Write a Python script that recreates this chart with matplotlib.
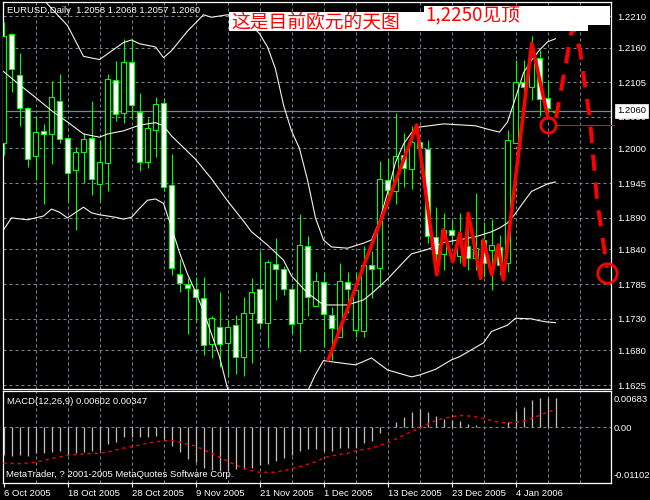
import matplotlib
matplotlib.use("Agg")
import matplotlib.pyplot as plt
from matplotlib.patches import Rectangle
from matplotlib.transforms import blended_transform_factory

plt.rcParams['font.family'] = ['Liberation Sans', 'DejaVu Sans']

# ---------------- data ----------------
symbol_header = "EURUSD,Daily  1.2058 1.2068 1.2057 1.2060"
macd_header = "MACD(12,26,9) 0.00602 0.00347"
copyright_text = "MetaTrader, ? 2001-2005 MetaQuotes Software Corp."
note_text = "这是目前欧元的天图"
target_text = "1,2250见顶"

opens = [1.2008, 1.2182, 1.2116, 1.2064, 1.1988, 1.2027, 1.2023, 1.2075, 1.2016, 1.1966,
         1.1994, 1.2016, 1.1943, 1.1977, 1.2108, 1.2056, 1.2137, 1.2058, 1.1979, 1.2030,
         1.2072, 1.1942, 1.1801, 1.1785, 1.1777, 1.1763, 1.1690, 1.1717, 1.1692, 1.1721,
         1.1670, 1.1740, 1.1777, 1.1724, 1.1817, 1.1809, 1.1778, 1.1723, 1.1845, 1.1751,
         1.1788, 1.1736, 1.1701, 1.1789, 1.1712, 1.1710, 1.1815, 1.1810, 1.1950, 1.1932,
         1.1990, 1.1967, 1.2011, 1.1999, 1.1859, 1.1832, 1.1871, 1.1829, 1.1845, 1.1826,
         1.1855, 1.1839, 1.1844, 1.1818, 1.2009, 1.2106, 1.2097, 1.2143, 1.2080, 1.2058]
highs = [1.2201, 1.2183, 1.2151, 1.2066, 1.2051, 1.2039, 1.2107, 1.2118, 1.2017, 1.2003,
         1.2024, 1.2075, 1.2014, 1.2118, 1.2138, 1.2173, 1.2172, 1.2088, 1.2048, 1.2082,
         1.2080, 1.1992, 1.1825, 1.1795, 1.1796, 1.1797, 1.1734, 1.1772, 1.1728, 1.1736,
         1.1764, 1.1794, 1.1837, 1.1824, 1.1858, 1.1813, 1.1784, 1.1896, 1.1862, 1.1804,
         1.1804, 1.1749, 1.1818, 1.1805, 1.1804, 1.1845, 1.1837, 1.1980, 1.1985, 1.2057,
         1.2024, 1.2036, 1.2014, 1.2013, 1.1908, 1.1898, 1.1887, 1.1898, 1.1892, 1.1930,
         1.1884, 1.1888, 1.1863, 1.2029, 1.2140, 1.2140, 1.2178, 1.2156, 1.2109, 1.2068]
lows = [1.1990, 1.2090, 1.2036, 1.1971, 1.1950, 1.1912, 1.1976, 1.2009, 1.1916, 1.1871,
        1.1946, 1.1927, 1.1916, 1.1933, 1.2043, 1.2040, 1.2047, 1.1965, 1.1969, 1.1986,
        1.1933, 1.1800, 1.1773, 1.1706, 1.1726, 1.1673, 1.1668, 1.1654, 1.1638, 1.1643,
        1.1640, 1.1660, 1.1715, 1.1684, 1.1760, 1.1768, 1.1706, 1.1677, 1.1735, 1.1750,
        1.1686, 1.1665, 1.1701, 1.1739, 1.1702, 1.1702, 1.1763, 1.1781, 1.1916, 1.1912,
        1.1939, 1.1936, 1.1987, 1.1851, 1.1800, 1.1807, 1.1850, 1.1818, 1.1808, 1.1808,
        1.1797, 1.1776, 1.1800, 1.1805, 1.2009, 1.2080, 1.2077, 1.2051, 1.2053, 1.2057]
closes = [1.2178, 1.2126, 1.2064, 1.1983, 1.2026, 1.2023, 1.2082, 1.2015, 1.1961, 1.1994,
          1.2015, 1.1952, 1.1978, 1.2110, 1.2055, 1.2137, 1.2069, 1.1978, 1.2032, 1.2070,
          1.1939, 1.1810, 1.1787, 1.1779, 1.1764, 1.1689, 1.1731, 1.1690, 1.1717, 1.1669,
          1.1739, 1.1772, 1.1723, 1.1820, 1.1809, 1.1777, 1.1722, 1.1847, 1.1764, 1.1790,
          1.1738, 1.1715, 1.1790, 1.1777, 1.1776, 1.1815, 1.1809, 1.1951, 1.1934, 1.1988,
          1.1969, 1.2011, 1.2000, 1.1862, 1.1832, 1.1871, 1.1863, 1.1854, 1.1826, 1.1842,
          1.1818, 1.1847, 1.1816, 1.2014, 1.2106, 1.2097, 1.2154, 1.2078, 1.2064, 1.2060]

upper_x = [0, 3, 5, 6, 8, 10, 12, 13, 15, 16, 17, 19, 20, 21, 23, 25, 26, 28, 30, 31,
           32, 33, 34, 35, 36, 37, 38, 39, 40, 41, 43, 45, 46, 47, 48, 49, 50, 51, 52, 55,
           59, 61, 62, 63, 64, 65, 66, 67, 68, 69]
upper_y = [1.2290, 1.2262, 1.2236, 1.2222, 1.2195, 1.2146, 1.2141, 1.2150, 1.2168, 1.2172,
           1.2166, 1.2161, 1.2144, 1.2155, 1.2186, 1.2212, 1.2208, 1.2212, 1.2208, 1.2195,
           1.2182, 1.2161, 1.2126, 1.2069, 1.2028, 1.2000, 1.1950, 1.1890, 1.1855, 1.1844,
           1.1842, 1.1850, 1.1855, 1.1885, 1.1930, 1.1978, 1.2007, 1.2025, 1.2034, 1.2039,
           1.2036, 1.2029, 1.2026, 1.2042, 1.2080, 1.2120, 1.2140, 1.2156, 1.2169, 1.2174]
middle_x = [0, 2, 4, 6, 8, 10, 12, 13, 15, 17, 19, 20, 21, 24, 26, 28, 30, 31, 33, 35,
            36, 38, 40, 43, 45, 46, 48, 50, 51, 53, 55, 59, 61, 62, 63, 64, 65, 66, 68, 69]
middle_y = [1.2122, 1.2101, 1.2081, 1.2060, 1.2042, 1.2023, 1.2018, 1.2023, 1.2028, 1.2037,
            1.2041, 1.2036, 1.2020, 1.1983, 1.1952, 1.1917, 1.1885, 1.1868, 1.1847, 1.1823,
            1.1798, 1.1771, 1.1752, 1.1752, 1.1760, 1.1770, 1.1793, 1.1820, 1.1833, 1.1840,
            1.1851, 1.1860, 1.1868, 1.1874, 1.1882, 1.1897, 1.1915, 1.1932, 1.1944, 1.1947]
lower_x = [0, 1, 3, 5, 6, 7, 8, 10, 11, 12, 14, 15, 16, 17, 18, 19, 20, 21, 22, 23,
           24, 25, 26, 27, 28, 30, 32, 34, 36, 37, 38, 39, 40, 41, 44, 46, 48, 51, 52, 54,
           56, 57, 60, 61, 63, 64, 66, 67, 68, 69]
lower_y = [1.1871, 1.1890, 1.1887, 1.1893, 1.1904, 1.1899, 1.1890, 1.1907, 1.1898, 1.1895,
           1.1891, 1.1888, 1.1891, 1.1905, 1.1918, 1.1920, 1.1913, 1.1875, 1.1835, 1.1801,
           1.1773, 1.1742, 1.1706, 1.1670, 1.1620, 1.1575, 1.1555, 1.1555, 1.1570, 1.1590,
           1.1615, 1.1642, 1.1664, 1.1662, 1.1657, 1.1668, 1.1649, 1.1638, 1.1641, 1.1650,
           1.1665, 1.1670, 1.1692, 1.1710, 1.1720, 1.1731, 1.1730, 1.1727, 1.1725, 1.1724]

bid_price = 1.2060
price_ticks = [1.2210, 1.2160, 1.2105, 1.2050, 1.2000, 1.1945, 1.1890, 1.1840,
               1.1785, 1.1730, 1.1680, 1.1625]

macd_hist = [-0.0065, -0.0067, -0.0064, -0.0067, -0.0060, -0.0060, -0.0056, -0.0054, -0.0065, -0.0060,
             -0.0056, -0.0054, -0.0052, -0.0039, -0.0034, -0.0023, -0.0023, -0.0023, -0.0023, -0.0019,
             -0.0027, -0.0044, -0.0057, -0.0073, -0.0081, -0.0093, -0.0098, -0.0101, -0.0101, -0.0096,
             -0.0096, -0.0093, -0.0087, -0.0085, -0.0077, -0.0071, -0.0064, -0.0054, -0.0050, -0.0050,
             -0.0054, -0.0054, -0.0047, -0.0047, -0.0048, -0.0036, -0.0031, -0.0012, 0.0002, 0.0012,
             0.0025, 0.0036, 0.0043, 0.0036, 0.0026, 0.0020, 0.0018, 0.0015, 0.0008, 0.0006,
             0.0001, 0.0000, 0.0000, 0.0012, 0.0039, 0.0048, 0.0063, 0.0068, 0.00683, 0.0068]
signal_x = [0, 2, 4, 6, 8, 10, 12, 13, 15, 17, 18, 20, 21, 22, 24, 25, 26, 27, 29, 30,
            31, 32, 34, 35, 36, 37, 39, 40, 41, 43, 44, 46, 47, 48, 49, 50, 51, 52, 53, 54,
            55, 56, 57, 58, 59, 60, 61, 62, 63, 64, 65, 66, 67, 68, 69]
signal_y = [-0.0083, -0.0084, -0.0081, -0.0072, -0.0065, -0.0061, -0.0060, -0.0057, -0.0048, -0.0041,
            -0.0036, -0.0031, -0.0030, -0.0034, -0.0043, -0.0052, -0.0060, -0.0069, -0.0087, -0.0094,
            -0.0100, -0.0104, -0.0104, -0.0100, -0.0096, -0.0091, -0.0080, -0.0071, -0.0066, -0.0060,
            -0.0054, -0.0048, -0.0042, -0.0036, -0.0027, -0.0018, -0.0010, -0.0002, 0.0007, 0.0016,
            0.0021, 0.0025, 0.0028, 0.0027, 0.0025, 0.0021, 0.0016, 0.0012, 0.0011, 0.0012,
            0.0015, 0.0021, 0.0028, 0.0036, 0.0041]
macd_ticks = [0.00683, 0.0, -0.01102]
macd_tick_labels = ["0.00683", "0.00", "-0.01102"]

date_pos = [0, 8, 16, 24, 32, 40, 48, 56, 64]
date_labels = ["6 Oct 2005", "18 Oct 2005", "28 Oct 2005", "9 Nov 2005", "21 Nov 2005",
               "1 Dec 2005", "13 Dec 2005", "23 Dec 2005", "4 Jan 2006"]

# hand-drawn annotation (red)
trend_x = [40.6, 51.65, 54.15, 54.98, 56.15, 57.06, 57.6, 58.1, 59.65, 59.98, 61.03,
           61.85, 62.48, 66.03, 68.06]
trend_y = [1.1665, 1.2037, 1.1800, 1.1871, 1.1821, 1.1866, 1.1815, 1.1897, 1.1794,
           1.1855, 1.1800, 1.1847, 1.1792, 1.2167, 1.2048]
proj_x = [69.06, 71.13, 72.06, 73.31, 74.19, 75.44]
proj_y = [1.2048, 1.2194, 1.2156, 1.2045, 1.1918, 1.1811]
circle_x = [68.03, 75.4]
circle_y = [1.2037, 1.1803]
level_x = [68.94, 76.19]
level_y = [1.2037, 1.2037]

# ---------------- drawing ----------------
W, H = 650, 500
fig = plt.figure(figsize=(6.5, 5), dpi=100, facecolor='black')


def frame(l, t, r, b):
    return [l / W, 1 - b / H, (r - l) / W, (b - t) / H]


GRID = '#778899'
LIME = '#00ff00'
BAND = '#f4f4ea'

ax = fig.add_axes(frame(2.5, 2, 610.5, 388.5), facecolor='black')
axm = fig.add_axes(frame(2.5, 391, 610.5, 482.5), facecolor='black')

n = len(opens)
xs = list(range(n))
XL = (-0.125, 75.875)

for a in (ax, axm):
    a.set_xlim(*XL)
    for s in a.spines.values():
        s.set_color('white')
        s.set_linewidth(0.9)
    for k in range(4, 76, 4):
        a.axvline(k, color=GRID, lw=0.72, ls=(0, (3, 3)), zorder=1)

ax.set_ylim(1.16196, 1.22322)
for v in price_ticks:
    ax.axhline(v, color=GRID, lw=0.72, ls=(0, (3, 3)), zorder=1)
ax.axhline(bid_price, color=GRID, lw=0.9, zorder=1.5)

# candles
ax.vlines(xs, lows, highs, color=LIME, lw=0.8, zorder=3)
bottoms = [min(o, c) for o, c in zip(opens, closes)]
heights = [max(abs(c - o), 0.00008) for o, c in zip(opens, closes)]
faces = ['white' if c < o else 'black' for o, c in zip(opens, closes)]
ax.bar(xs, heights, bottom=bottoms, width=0.52, color=faces, edgecolor=LIME,
       linewidth=0.8, zorder=4)

# bands
for bx, by in ((upper_x, upper_y), (middle_x, middle_y), (lower_x, lower_y)):
    ax.plot(bx, by, color=BAND, lw=0.8, zorder=5)

# red annotations
ax.plot(trend_x, trend_y, color='#ff0000', lw=2.6, zorder=7, solid_joinstyle='round',
        solid_capstyle='round')
ax.plot(proj_x, proj_y, color='#ff0000', lw=2.8, ls=(0, (4.2, 3.0)), zorder=7,
        dash_capstyle='butt', clip_on=False)
ax.plot(level_x, level_y, color='#ff0000', lw=0.8, zorder=7, clip_on=False)
ax.plot(circle_x[:1], circle_y[:1], 'o', ms=11, mfc='none', mec='#ff0000', mew=2.0,
        zorder=8, clip_on=False)
ax.plot(circle_x[1:], circle_y[1:], 'o', ms=14, mfc='none', mec='#ff0000', mew=2.0,
        zorder=8, clip_on=False)

ax.set_xticks([])
ax.yaxis.tick_right()
ax.set_yticks(price_ticks)
ax.set_yticklabels([f"{v:.4f}" for v in price_ticks])
ax.tick_params(axis='y', colors='white', labelsize=6.8, length=0, pad=4.6)

# bid label box
bt = blended_transform_factory(ax.transAxes, ax.transData)
ax.annotate(f"{bid_price:.4f}", xy=(1, bid_price), xycoords=bt, xytext=(4.6, 0),
            textcoords='offset points', ha='left', va='center', fontsize=6.8,
            color='black', zorder=20, annotation_clip=False,
            bbox=dict(boxstyle='square,pad=0.25', fc='white', ec='white', lw=0.5))

# MACD panel
axm.set_ylim(-0.01278, 0.00848)
axm.axhline(0, color=GRID, lw=0.72, ls=(0, (3, 3)), zorder=1)
axm.vlines(xs, 0, macd_hist, color='#c0c0c0', lw=0.9, zorder=3)
axm.plot(signal_x, signal_y, color='#ff0000', lw=1.0, ls=(0, (2.2, 2.9)), zorder=4)
axm.yaxis.tick_right()
axm.set_yticks(macd_ticks)
axm.set_yticklabels(macd_tick_labels)
axm.tick_params(axis='y', colors='white', labelsize=6.8, length=0, pad=2.0)
axm.set_xticks(date_pos)
axm.set_xticklabels(date_labels, ha='left')
axm.tick_params(axis='x', colors='white', labelsize=6.8, length=3, width=0.8,
                direction='out', pad=2.0)

# texts
def ftxt(x, y, s, **kw):
    fig.text(x / W, 1 - y / H, s, **kw)

ftxt(7, 10.8, symbol_header, color='white', fontsize=6.8, va='center', ha='left')
ftxt(6.7, 401.5, macd_header, color='white', fontsize=6.8, va='center', ha='left')
ftxt(6, 474.3, copyright_text, color='white', fontsize=6.8, va='center', ha='left')

fig.add_artist(Rectangle((229 / W, 1 - 31 / H), (588 - 229) / W, (31 - 12) / H,
                         transform=fig.transFigure, fc='white', ec='none', zorder=5))
fig.add_artist(Rectangle((424 / W, 1 - 25 / H), (610 - 424) / W, (25 - 6) / H,
                         transform=fig.transFigure, fc='white', ec='none', zorder=5))
ftxt(231, 21.5, note_text, color='#ff0000', fontsize=13.5, va='center', ha='left',
     family=['Noto Sans CJK SC', 'DejaVu Sans'], zorder=6)
ftxt(425, 15.5, target_text, color='#ff0000', fontsize=13.5, va='center', ha='left',
     family=['Noto Sans CJK SC', 'DejaVu Sans'], zorder=6)

fig.savefig('out.png', dpi=100, facecolor='black')
